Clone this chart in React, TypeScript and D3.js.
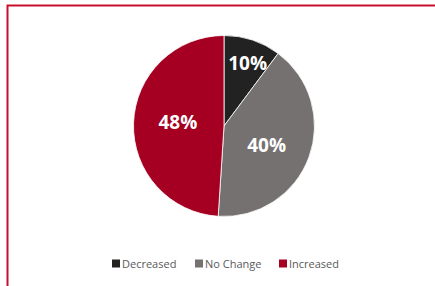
import React, { useEffect, useRef } from 'react';
import * as d3 from 'd3';

const categories = ['Decreased', 'No Change', 'Increased'];
const shares = [10, 40, 48];
const colors = ['#222222', '#767171', '#A50021'];

export default function App() {
  const ref = useRef<SVGSVGElement | null>(null);

  useEffect(() => {
    document.body.style.margin = '0';
    const svg = d3.select(ref.current);
    svg.selectAll('*').remove();

    const width = 435, height = 286;
    svg.attr('width', width).attr('height', height);
    svg.append('rect').attr('width', width).attr('height', height).attr('fill', '#fff');

    // frame (top + left, the rest is cut off)
    svg.append('path')
      .attr('d', `M7.5,${height} V5.5 H${width}`)
      .attr('fill', 'none')
      .attr('stroke', '#C8102E')
      .attr('stroke-width', 2);

    const cx = 224, cy = 126, r = 90.5;
    const data = categories.map((c, i) => ({ name: c, value: shares[i], color: colors[i] }));
    const pie = d3.pie<any>().value(d => d.value).sort(null);
    const arc = d3.arc<any>().innerRadius(0).outerRadius(r);
    const labelArc = d3.arc<any>().innerRadius(r * 0.62).outerRadius(r * 0.62);

    const g = svg.append('g').attr('transform', `translate(${cx},${cy})`);
    const arcs = pie(data);
    g.selectAll('path.slice').data(arcs).enter().append('path')
      .attr('class', 'slice')
      .attr('d', arc)
      .attr('fill', d => d.data.color)
      .attr('stroke', '#fff')
      .attr('stroke-width', 0.8);

    // best-fit style nudges, as in the source chart
    const labelOffsets = [[6, -10], [-10, 0], [10, -2]];
    g.selectAll('text.lbl').data(arcs).enter().append('text')
      .attr('class', 'lbl')
      .attr('transform', (d, i) => {
        const [x, y] = labelArc.centroid(d);
        return `translate(${x + labelOffsets[i][0]},${y + labelOffsets[i][1]})`;
      })
      .attr('text-anchor', 'middle')
      .attr('dominant-baseline', 'central')
      .attr('fill', '#fff')
      .attr('font-family', 'Open Sans, Noto Sans, sans-serif')
      .attr('font-weight', 700)
      .attr('font-size', 19)
      .text(d => `${d.data.value}%`);

    // legend
    const legendX = [112, 195, 279];
    const lg = svg.append('g').attr('font-family', 'Open Sans, Noto Sans, sans-serif').attr('font-size', 11);
    data.forEach((d, i) => {
      lg.append('rect').attr('x', legendX[i]).attr('y', 259.5).attr('width', 8).attr('height', 8).attr('fill', d.color);
      lg.append('text').attr('x', legendX[i] + 10).attr('y', 267.5).attr('fill', '#595959').text(d.name);
    });
  }, []);

  return <svg ref={ref} style={{ display: 'block' }} />;
}
